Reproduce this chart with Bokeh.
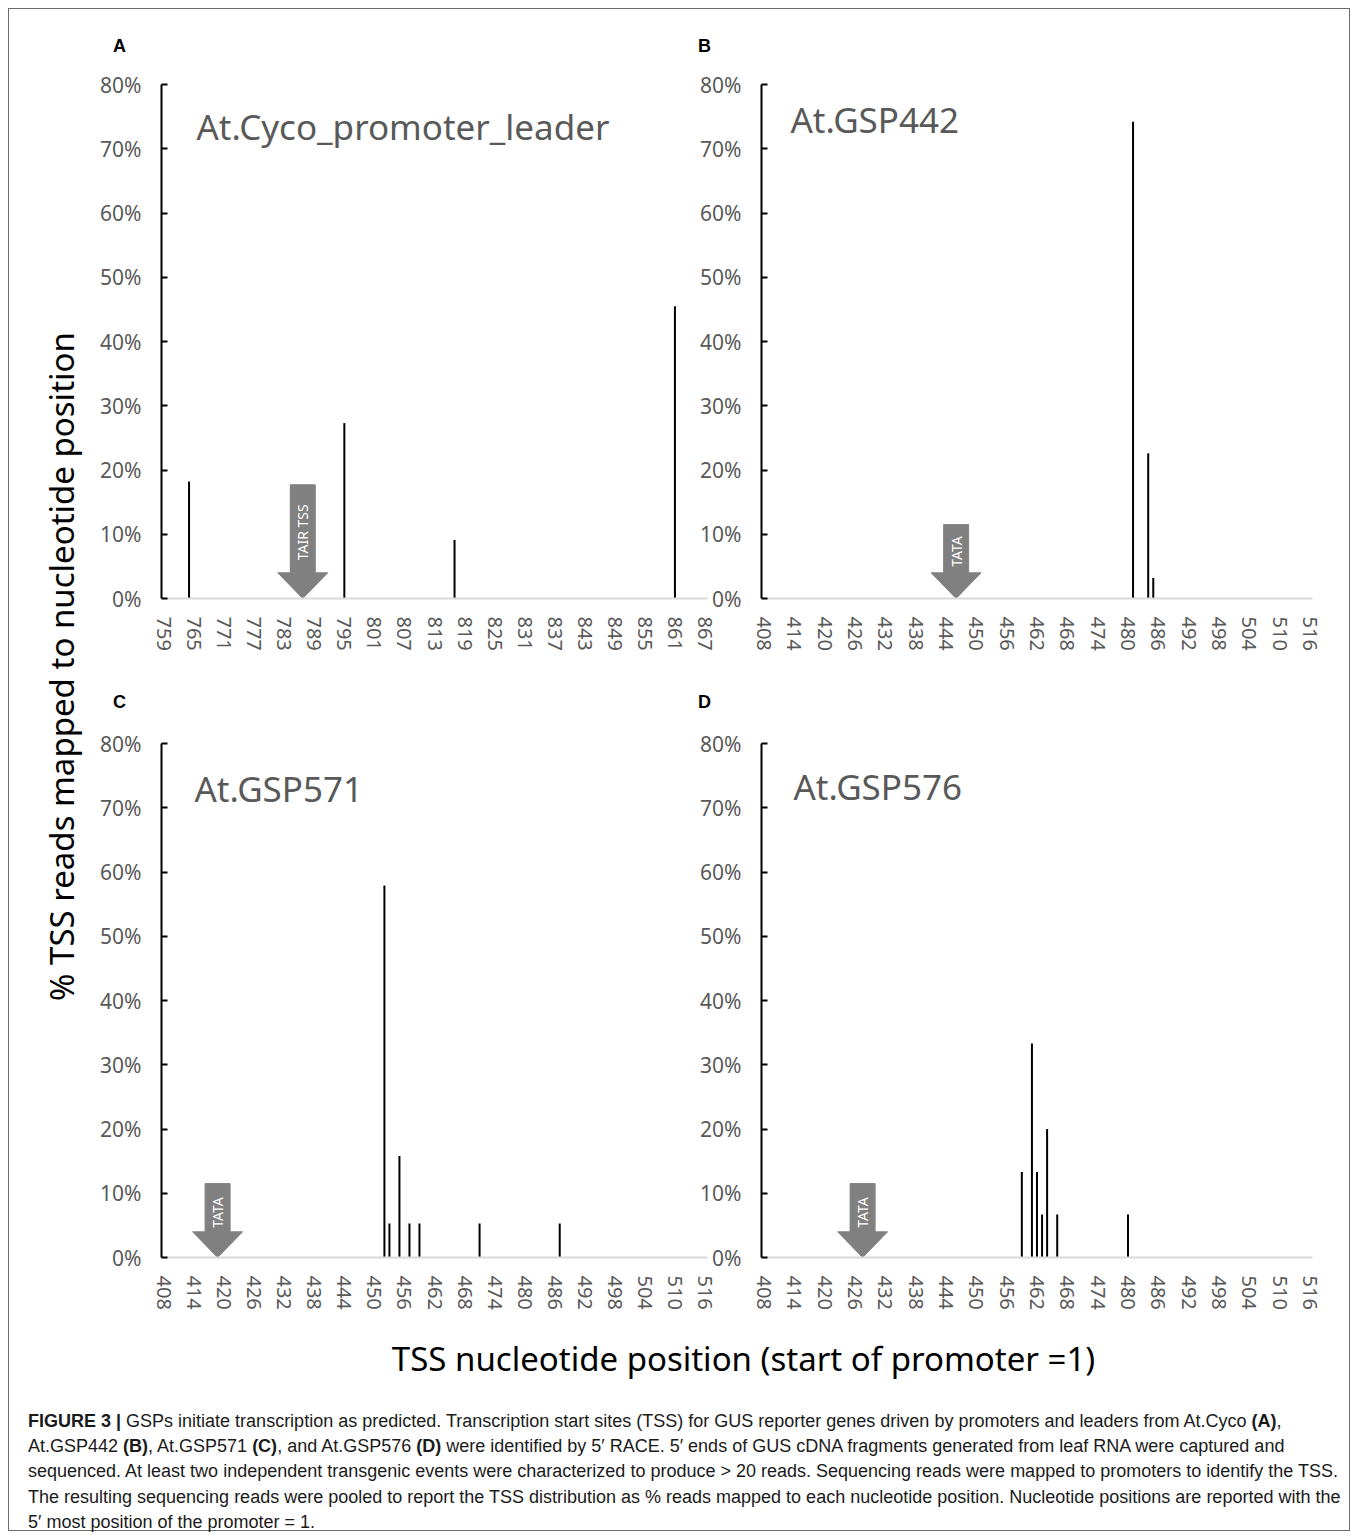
import math
from bokeh.plotting import figure
from bokeh.models import FixedTicker, Label, Range1d, Div
from bokeh.layouts import row, column
from bokeh.embed import file_html
from bokeh.resources import INLINE
from bokeh.core.properties import value

# ---------------- data ----------------
a_pos = [764, 795, 817, 861]
a_pct = [18.2, 27.3, 9.1, 45.5]
b_pos = [481, 484, 485]
b_pct = [74.2, 22.6, 3.2]
c_pos = [452, 453, 455, 457, 459, 471, 487]
c_pct = [57.9, 5.3, 15.8, 5.3, 5.3, 5.3, 5.3]
d_pos = [459, 461, 462, 463, 464, 466, 480]
d_pct = [13.3, 33.3, 13.3, 6.7, 20.0, 6.7, 6.7]

a_ticks = [759, 765, 771, 777, 783, 789, 795, 801, 807, 813, 819, 825, 831,
           837, 843, 849, 855, 861, 867]
gsp_ticks = [408, 414, 420, 426, 432, 438, 444, 450, 456, 462, 468, 474, 480,
             486, 492, 498, 504, 510, 516]
y_ticks = [0, 10, 20, 30, 40, 50, 60, 70, 80]
y_tick_labels = ["0%", "10%", "20%", "30%", "40%", "50%", "60%", "70%", "80%"]

panel_letters = ["A", "B", "C", "D"]
panel_titles = ["At.Cyco_promoter_leader", "At.GSP442", "At.GSP571", "At.GSP576"]
marker_labels = ["TAIR TSS", "TATA", "TATA", "TATA"]
marker_pos = [786.7, 446.0, 418.7, 427.5]
marker_top = [17.7, 11.5, 11.5, 11.5]
marker_text_y = [10.3, 7.3, 7.0, 7.0]

y_title = "% TSS reads mapped to nucleotide position"
x_title = "TSS nucleotide position (start of promoter =1)"

FONT = "Noto Sans"
GRAY_TXT = "#595959"
ARROW = "#808080"


def panel(pos, pct, ticks, xr, idx, width, height, mbl, mbr, mbt, mbb,
          title_xy, margin=None):
    kw = {}
    if margin is not None:
        kw["margin"] = margin
    p = figure(width=width, height=height, x_range=Range1d(*xr),
               y_range=Range1d(0, 80), output_backend="svg",
               toolbar_location=None, tools="",
               min_border_left=mbl, min_border_right=mbr,
               min_border_top=mbt, min_border_bottom=mbb, **kw)
    p.grid.visible = False
    p.outline_line_color = None
    p.background_fill_alpha = 0
    p.border_fill_alpha = 0

    # y axis
    ya = p.yaxis[0]
    ya.ticker = FixedTicker(ticks=y_ticks)
    ya.major_label_overrides = {t: l for t, l in zip(y_ticks, y_tick_labels)}
    ya.axis_line_color = "black"
    ya.axis_line_width = 2
    ya.major_tick_in = 6
    ya.major_tick_out = 0
    ya.major_tick_line_color = "black"
    ya.major_tick_line_width = 2
    ya.minor_tick_line_color = None
    ya.major_label_text_font = FONT
    ya.major_label_text_font_size = "21px"
    ya.major_label_text_color = GRAY_TXT
    ya.major_label_standoff = 20

    # x axis
    xa = p.xaxis[0]
    xa.ticker = FixedTicker(ticks=ticks)
    xa.major_label_overrides = {t: str(t) for t in ticks}
    xa.axis_line_color = "#d9d9d9"
    xa.axis_line_width = 2
    xa.major_tick_line_color = None
    xa.minor_tick_line_color = None
    xa.major_label_orientation = "vertical"
    xa.major_label_text_font = FONT
    xa.major_label_text_font_size = "20px"
    xa.major_label_text_color = GRAY_TXT
    xa.major_label_standoff = 12

    # bars
    p.segment(x0=pos, y0=[0] * len(pos), x1=pos, y1=pct,
              line_color="black", line_width=2)

    # marker arrow (built around its position, in data units)
    span = xr[1] - xr[0]
    frame_w = width - mbl - mbr
    ux = span / frame_w              # data units per pixel
    cx = marker_pos[idx]
    top = marker_top[idx]
    sw = 12.5 * ux
    hw = 25 * ux
    hb = 4.0
    xs = [cx - sw, cx + sw, cx + sw, cx + hw, cx, cx - hw, cx - sw]
    ys = [top, top, hb, hb, 0, hb, hb]
    p.patch(xs, ys, fill_color=ARROW, line_color=ARROW, line_width=1)
    p.text(x=[cx], y=[marker_text_y[idx]], text=[marker_labels[idx]],
           angle=math.pi / 2, text_align="center", text_baseline="middle",
           text_color="white", text_font=value(FONT), text_font_size="14px")

    # panel title
    p.add_layout(Label(x=title_xy[0], y=title_xy[1], x_units="screen",
                       y_units="screen", text=panel_titles[idx],
                       text_font=FONT, text_font_size="35px",
                       text_color=GRAY_TXT, text_align="left",
                       text_baseline="middle"))
    return p


def blank(w, h, margin=None):
    kw = {}
    if margin is not None:
        kw["margin"] = margin
    f = figure(width=w, height=h, x_range=Range1d(0, w), y_range=Range1d(0, h),
               output_backend="svg", toolbar_location=None, tools="",
               min_border=0, **kw)
    f.axis.visible = False
    f.grid.visible = False
    f.outline_line_color = None
    f.background_fill_alpha = 0
    f.border_fill_alpha = 0
    return f


LW, RW, OV = 632, 642, 22
ROW_H = 585
S1_H, S2_H = 60, 73
YT_W = 78
PANEL_W = LW + RW - OV

pA = panel(a_pos, a_pct, a_ticks, (758.5, 867.5), 0, LW, ROW_H, 74, 12, 15, 56,
           (35, 472))
pB = panel(b_pos, b_pct, gsp_ticks, (407.5, 516.5), 1, RW, ROW_H, 63, 27, 15, 56,
           (29, 479), margin=(0, 0, 0, -OV))
pC = panel(c_pos, c_pct, gsp_ticks, (407.5, 516.5), 2, LW, ROW_H, 74, 12, 16, 55,
           (33, 469))
pD = panel(d_pos, d_pct, gsp_ticks, (407.5, 516.5), 3, RW, ROW_H, 63, 27, 16, 55,
           (32, 471), margin=(0, 0, 0, -OV))

# strips holding the panel letters
s1 = blank(PANEL_W, S1_H)
s1.text(x=[32, 617], y=[S1_H - 36, S1_H - 36], text=panel_letters[:2],
        text_align="center", text_baseline="middle", text_color="black",
        text_font=value("Liberation Sans"), text_font_style="bold",
        text_font_size="18px")
s2 = blank(PANEL_W, S2_H)
s2.text(x=[32, 617], y=[S2_H - 47, S2_H - 47], text=panel_letters[2:],
        text_align="center", text_baseline="middle", text_color="black",
        text_font=value("Liberation Sans"), text_font_style="bold",
        text_font_size="18px")

TOTAL_H = S1_H + ROW_H + S2_H + ROW_H
yt = blank(YT_W, TOTAL_H)
yt.text(x=[52], y=[TOTAL_H - 657], text=[y_title], angle=math.pi / 2,
        text_align="center", text_baseline="middle", text_color="black",
        text_font=value(FONT), text_font_size="33px")

XT_H = 82
xt = blank(YT_W + PANEL_W, XT_H)
xt.text(x=[734], y=[XT_H - 46], text=[x_title], text_align="center",
        text_baseline="middle", text_color="black",
        text_font=value(FONT), text_font_size="33px")

caption_html = (
    "<b>FIGURE 3 |</b> GSPs initiate transcription as predicted. Transcription start sites (TSS) "
    "for GUS reporter genes driven by promoters and leaders from At.Cyco <b>(A)</b>,<br>"
    "At.GSP442 <b>(B)</b>, At.GSP571 <b>(C)</b>, and At.GSP576 <b>(D)</b> were identified by "
    "5\u2032 RACE. 5\u2032 ends of GUS cDNA fragments generated from leaf RNA were captured and<br>"
    "sequenced. At least two independent transgenic events were characterized to produce &gt; 20 "
    "reads. Sequencing reads were mapped to promoters to identify the TSS.<br>"
    "The resulting sequencing reads were pooled to report the TSS distribution as % reads mapped "
    "to each nucleotide position. Nucleotide positions are reported with the<br>"
    "5\u2032 most position of the promoter = 1."
)
cap = Div(text=caption_html, width=1320, height=136,
          styles={"font-family": "'Liberation Sans', Arial, sans-serif",
                  "font-size": "18px", "line-height": "25.2px",
                  "color": "#1a1a1a", "white-space": "nowrap",
                  "padding-left": "14px", "padding-top": "10px"})

layout = column(
    row(yt, column(s1, row(pA, pB), s2, row(pC, pD))),
    xt,
    cap,
    width=1342, height=1523, margin=(8, 8, 8, 8),
    styles={"border": "1px solid #6b6b6b"},
)

open("out.html", "w").write(file_html(layout, INLINE))
